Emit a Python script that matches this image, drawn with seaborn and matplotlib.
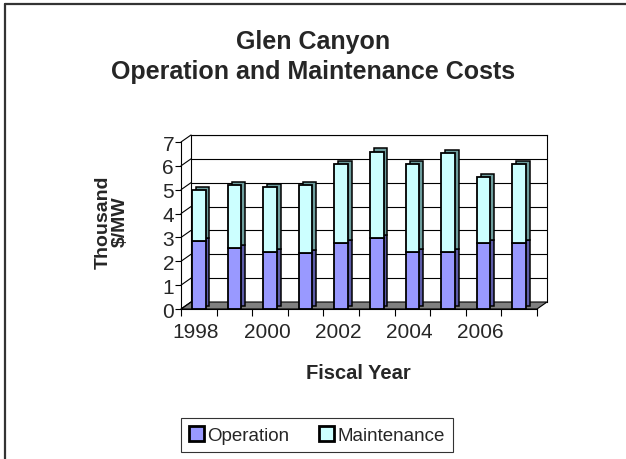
import matplotlib
matplotlib.use("Agg")
import matplotlib.pyplot as plt
import seaborn as sns
import pandas as pd
import numpy as np
from matplotlib import patheffects as pe
from matplotlib.patches import Patch, Polygon
from matplotlib.lines import Line2D

# ---- data ----
years = ["1998", "1999", "2000", "2001", "2002", "2003", "2004", "2005", "2006", "2007"]
operation = [2.85, 2.55, 2.40, 2.33, 2.76, 2.97, 2.40, 2.40, 2.76, 2.76]
maintenance = [2.15, 2.65, 2.70, 2.87, 3.30, 3.63, 3.67, 4.13, 2.77, 3.30]
tick_labels = ["1998", "2000", "2002", "2004", "2006"]
series_names = ["Operation", "Maintenance"]

op_color = "#9999FF"
mt_color = "#CCFFFF"
op_side = "#5C5CA8"
mt_side = "#6E9E9E"

sns.set_theme(style="white")
plt.rcParams['font.family'] = ['Liberation Sans', 'DejaVu Sans']

W, H = 626, 460
fig = plt.figure(figsize=(6.26, 4.6), dpi=100)
fig.patch.set_facecolor("white")


def px(x0, y0, x1, y1):
    return [x0 / W, 1 - y1 / H, (x1 - x0) / W, (y1 - y0) / H]


# back wall axes
back = fig.add_axes(px(191, 136, 547, 303))
back.set_xlim(0, 1)
back.set_ylim(0, 7)
back.set_xticks([])
back.set_yticks([])
for y in range(1, 8):
    back.axhline(y, color="black", lw=0.8)
for s in back.spines.values():
    s.set_visible(True)
    s.set_color("black")
    s.set_linewidth(0.8)
back.spines["bottom"].set_visible(False)

# front axes with bars
front = fig.add_axes(px(181, 143, 537, 310))
front.patch.set_alpha(0)

df = pd.DataFrame({"year": years, "operation": operation, "maintenance": maintenance})

# floor and side-wall lines (drawn behind bars)
to_fig = fig.transFigure
floor = Polygon([[181 / W, 1 - 310 / H], [537 / W, 1 - 310 / H],
                 [547 / W, 1 - 303 / H], [191 / W, 1 - 303 / H]],
                closed=True, transform=to_fig, facecolor="#808080",
                edgecolor="black", lw=0.8, clip_on=False)
back.add_artist(floor)
for y in range(0, 8):
    yf = 310 - y * (167 / 7)
    back.add_artist(Line2D([181 / W, 191 / W], [1 - yf / H, 1 - (yf - 7) / H],
                           transform=to_fig, color="black", lw=0.8, clip_on=False))

sns.barplot(data=df, x="year", y="operation", color=op_color, saturation=1,
            edgecolor="black", linewidth=1.3, width=0.38, ax=front)
n_op = len(front.patches)
sns.barplot(data=df, x="year", y="maintenance", bottom=df["operation"].values,
            color=mt_color, saturation=1, edgecolor="black", linewidth=1.3,
            width=0.38, ax=front)

for i, p in enumerate(front.patches):
    side = op_side if i < n_op else mt_side
    p.set_path_effects([
        pe.PathPatchEffect(offset=(2.8, 2.3), facecolor=side, edgecolor="black", linewidth=1.1),
        pe.Normal(),
    ])

front.set_ylim(0, 7)
front.set_xlim(-0.5, len(years) - 0.5)
front.set_yticks(range(0, 8))
front.set_yticklabels([str(v) for v in range(0, 8)], fontsize=15)
front.tick_params(axis="y", length=4, width=0.8, color="black", direction="out", pad=1, left=True)
pos = [years.index(t) - 0.08 for t in tick_labels]
front.set_xticks(pos)
front.set_xticklabels(tick_labels, fontsize=15)
front.tick_params(axis="x", length=0, pad=9)
front.set_xticks(np.arange(-0.5, len(years), 1.0), minor=True)
front.tick_params(axis="x", which="minor", length=5, width=0.8, color="black", direction="out", bottom=True)
front.set_xlabel("")
front.set_ylabel("")
for k in ["top", "right"]:
    front.spines[k].set_visible(False)
front.spines["left"].set_color("black")
front.spines["left"].set_linewidth(0.8)
front.spines["bottom"].set_color("black")
front.spines["bottom"].set_linewidth(0.8)

# texts
fig.text(313 / W, 1 - 57 / H, "Glen Canyon\nOperation and Maintenance Costs",
         ha="center", va="center", fontsize=18, fontweight="bold",
         linespacing=1.3, multialignment="center")
fig.text(358 / W, 1 - 374 / H, "Fiscal Year", ha="center", va="center",
         fontsize=14.5, fontweight="bold")
fig.text(112 / W, 1 - 222 / H, "Thousand\n$/MW", ha="center", va="center",
         rotation=90, fontsize=14, fontweight="bold", linespacing=1.0,
         multialignment="center")

# legend
handles = [Patch(facecolor=op_color, edgecolor="black", linewidth=2),
           Patch(facecolor=mt_color, edgecolor="black", linewidth=2)]
leg = fig.legend(handles, series_names, loc="center", bbox_to_anchor=(317 / W, 1 - 436 / H),
                 ncol=2, fontsize=13.5, frameon=True, fancybox=False, shadow=False,
                 handlelength=0.8, handleheight=0.8, handletextpad=0.15,
                 columnspacing=1.6, borderpad=0.45)
leg.get_frame().set_edgecolor("black")
leg.get_frame().set_linewidth(0.8)

# outer chart border (top and left visible)
fig.add_artist(Line2D([5 / W, 1.0], [1 - 5 / H, 1 - 5 / H], transform=to_fig,
                      color="#333333", lw=1.6))
fig.add_artist(Line2D([5 / W, 5 / W], [1 - 5 / H, 0.0], transform=to_fig,
                      color="#333333", lw=1.6))

fig.savefig("out.png", dpi=100)
